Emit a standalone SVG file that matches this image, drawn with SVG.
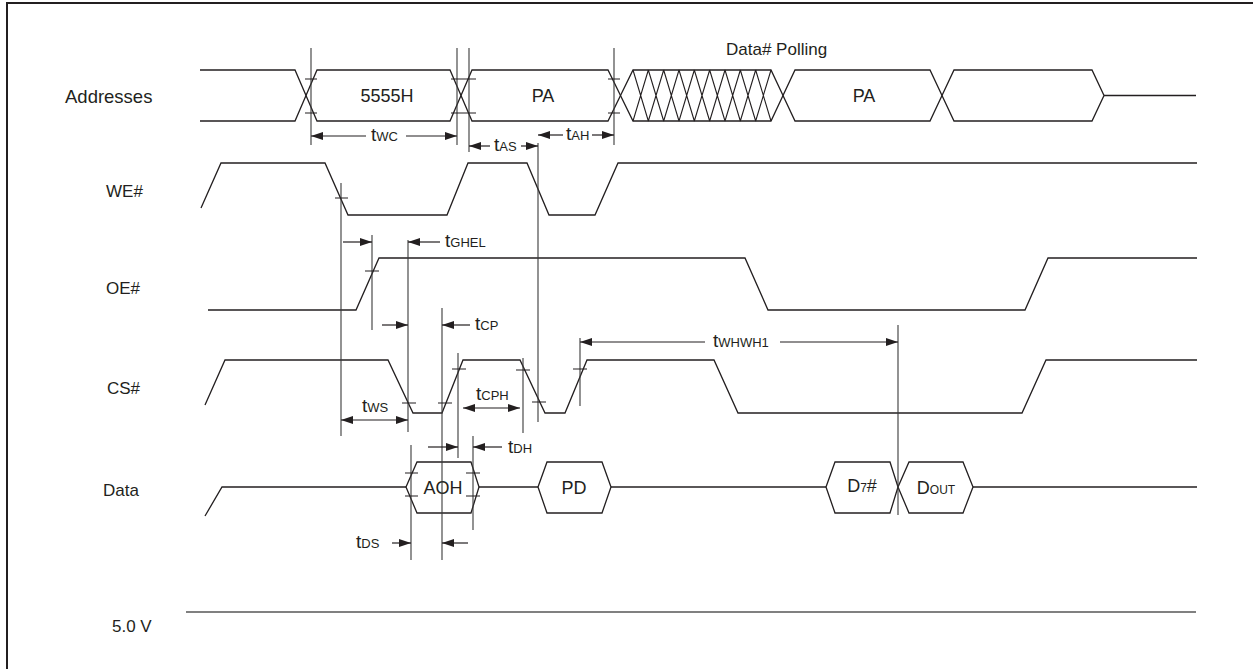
<svg xmlns="http://www.w3.org/2000/svg" width="1253" height="669" viewBox="0 0 1253 669">
<style>
.w{fill:none;stroke:#231f20;stroke-width:1.3;stroke-linejoin:miter}
.v{fill:none;stroke:#3a3a3a;stroke-width:1.1}
.k{fill:none;stroke:#231f20;stroke-width:1.1}
.a{fill:none;stroke:#231f20;stroke-width:1.2;marker-end:url(#ah)}
.b{fill:none;stroke:#231f20;stroke-width:1.2;marker-end:url(#ah);marker-start:url(#ah)}
text{font-family:"Liberation Sans",Arial,sans-serif;fill:#231f20}
.lb{font-size:17px}
.bx{font-size:18px;text-anchor:middle}
.t{font-size:19px}
.s{font-size:13px}
.s2{font-size:12px}
</style>
<defs>
<marker id="ah" markerUnits="userSpaceOnUse" markerWidth="12" markerHeight="8" refX="12" refY="4" orient="auto-start-reverse">
<path d="M0,0 L12,4 L0,8 z" fill="#231f20"/>
</marker>
</defs>
<rect x="7" y="3" width="1270" height="690" fill="none" stroke="#231f20" stroke-width="2"/>

<g id="labels">
<text class="lb" x="65" y="103" style="font-size:18.5px">Addresses</text>
<text class="lb" x="106" y="197">WE#</text>
<text class="lb" x="106" y="294">OE#</text>
<text class="lb" x="107" y="394">CS#</text>
<text class="lb" x="103" y="496">Data</text>
<text class="lb" x="112" y="632">5.0 V</text>
<text class="lb" x="726" y="55">Data# Polling</text>
</g>

<g id="addresses">
<polyline class="w" points="200,70 295,70 306,95.5 295,121 200,121"/>
<g id="addr-5555H"><polygon class="w" points="306,95.5 317,70 450,70 461,95.5 450,121 317,121"/><text class="bx" x="387" y="102">5555H</text></g>
<g id="addr-PA1"><polygon class="w" points="461,95.5 472,70 608,70 620.5,95.5 608,121 472,121"/><text class="bx" x="543" y="102">PA</text></g>
<g id="addr-hatch"><polygon class="w" points="620.5,95.5 633,70 771,70 783,95.5 771,121 633,121"/>
<path class="k" d="M633,70L648.33,121M648.33,70L663.67,121M663.67,70L679,121M679,70L694.33,121M694.33,70L709.67,121M709.67,70L725,121M725,70L740.33,121M740.33,70L755.67,121M755.67,70L771,121M633,121L648.33,70M648.33,121L663.67,70M663.67,121L679,70M679,121L694.33,70M694.33,121L709.67,70M709.67,121L725,70M725,121L740.33,70M740.33,121L755.67,70M755.67,121L771,70"/></g>
<g id="addr-PA2"><polygon class="w" points="783,95.5 795,70 930,70 942,95.5 930,121 795,121"/><text class="bx" x="864" y="102">PA</text></g>
<g id="addr-blank"><polygon class="w" points="942,95.5 954,70 1092,70 1104,95.5 1092,121 954,121"/></g>
<line class="w" x1="1104" y1="95.5" x2="1196" y2="95.5"/>
</g>

<g id="we">
<polyline class="w" points="201,208 221,163 325,163 348,215 447,215 468,163 527,163 549,215 595,215 618,163 1197,163"/>
</g>
<g id="oe">
<polyline class="w" points="208,310 356,310 379,258 745,258 768,310 1025,310 1048,258 1197,258"/>
</g>
<g id="cs">
<polyline class="w" points="205,405 225,360 388,360 413,413 442,413 463,360 520,360 545,413 565,413 587,360 714,360 738,413 1022,413 1046,360 1197,360"/>
</g>
<g id="data">
<polyline class="w" points="205,516 222,487 406,487"/>
<g id="data-AOH"><polygon class="w" points="406,487 417,462 471,462 479,487 471,513 417,513"/><text class="bx" x="443" y="494">AOH</text></g>
<line class="w" x1="479" y1="487" x2="538" y2="487"/>
<g id="data-PD"><polygon class="w" points="538,487 547,462 602,462 611,487 602,513 547,513"/><text class="bx" x="574" y="494">PD</text></g>
<line class="w" x1="611" y1="487" x2="826" y2="487"/>
<g id="data-D7"><polygon class="w" points="826,487 835,462 890,462 898,487 890,513 835,513"/><text class="bx" x="862" y="492"><tspan>D</tspan><tspan class="s2">7</tspan><tspan>#</tspan></text></g>
<g id="data-DOUT"><polygon class="w" points="898,487 909,462 963,462 973,487 963,513 909,513"/><text class="bx" x="936" y="494"><tspan>D</tspan><tspan class="s2">OUT</tspan></text></g>
<line class="w" x1="973" y1="487" x2="1197" y2="487"/>
</g>
<g id="vcc">
<line x1="186" y1="612" x2="1196" y2="612" stroke="#808080" stroke-width="2"/>
</g>

<g id="connectors">
<g id="verticals">
<line class="v" x1="311" y1="48" x2="311" y2="145"/>
<line class="v" x1="457" y1="48" x2="457" y2="145"/>
<line class="v" x1="469" y1="48" x2="469" y2="152"/>
<line class="v" x1="614" y1="48" x2="614" y2="145"/>
<line class="v" x1="341" y1="183" x2="341" y2="436"/>
<line class="v" x1="372" y1="235" x2="372" y2="330"/>
<line class="v" x1="408" y1="240" x2="408" y2="432"/>
<line class="v" x1="411" y1="445" x2="411" y2="560"/>
<line class="v" x1="442" y1="308" x2="442" y2="560"/>
<line class="v" x1="458" y1="353" x2="458" y2="458"/>
<line class="v" x1="473" y1="436" x2="473" y2="530"/>
<line class="v" x1="523" y1="358" x2="523" y2="433"/>
<line class="v" x1="538" y1="143" x2="538" y2="422" stroke="#555"/>
<line class="v" x1="580" y1="338" x2="580" y2="406"/>
<line class="v" x1="898" y1="325" x2="898" y2="515"/>
</g>
<path id="ticks" class="k" d="M305,79H317M305,113H317M451,79H463M451,113H463M463,79H476M463,113H476M608,79H620M608,113H620M335,198H348M365,271H379M402,403H416M438,403H452M452,369H466M516,370H530M532,402H546M573,369H587M405,473H418M405,496H418M466,473H480M466,496H480"/>
<g id="arrows">
<line class="a" x1="366" y1="136" x2="311" y2="136"/>
<line class="a" x1="406" y1="136" x2="457" y2="136"/>
<line class="a" x1="490" y1="146" x2="469" y2="146"/>
<line class="a" x1="521" y1="146" x2="538" y2="146"/>
<line class="a" x1="563" y1="135" x2="538" y2="135"/>
<line class="a" x1="592" y1="135" x2="614" y2="135"/>
<line class="a" x1="343" y1="242" x2="372" y2="242"/>
<line class="a" x1="440" y1="242" x2="408" y2="242"/>
<line class="a" x1="382" y1="325" x2="408" y2="325"/>
<line class="a" x1="470" y1="325" x2="442" y2="325"/>
<line class="b" x1="341" y1="420" x2="408" y2="420"/>
<line class="b" x1="463" y1="408" x2="520" y2="408"/>
<line class="a" x1="428" y1="447" x2="458" y2="447"/>
<line class="a" x1="502" y1="447" x2="473" y2="447"/>
<line class="a" x1="705" y1="342" x2="580" y2="342"/>
<line class="a" x1="780" y1="342" x2="898" y2="342"/>
<line class="a" x1="392" y1="543" x2="411" y2="543"/>
<line class="a" x1="468" y1="543" x2="442" y2="543"/>
</g>
<g id="timing-labels">
<text x="371" y="141"><tspan class="t">t</tspan><tspan class="s">WC</tspan></text>
<text x="494" y="151"><tspan class="t">t</tspan><tspan class="s">AS</tspan></text>
<text x="566" y="140"><tspan class="t">t</tspan><tspan class="s">AH</tspan></text>
<text x="445" y="247"><tspan class="t">t</tspan><tspan class="s">GHEL</tspan></text>
<text x="475" y="330"><tspan class="t">t</tspan><tspan class="s">CP</tspan></text>
<text x="362" y="412"><tspan class="t">t</tspan><tspan class="s">WS</tspan></text>
<text x="476" y="400"><tspan class="t">t</tspan><tspan class="s">CPH</tspan></text>
<text x="508" y="453"><tspan class="t">t</tspan><tspan class="s">DH</tspan></text>
<text x="713" y="347"><tspan class="t">t</tspan><tspan class="s">WHWH1</tspan></text>
<text x="356" y="548"><tspan class="t">t</tspan><tspan class="s">DS</tspan></text>
</g>
</g>
</svg>
